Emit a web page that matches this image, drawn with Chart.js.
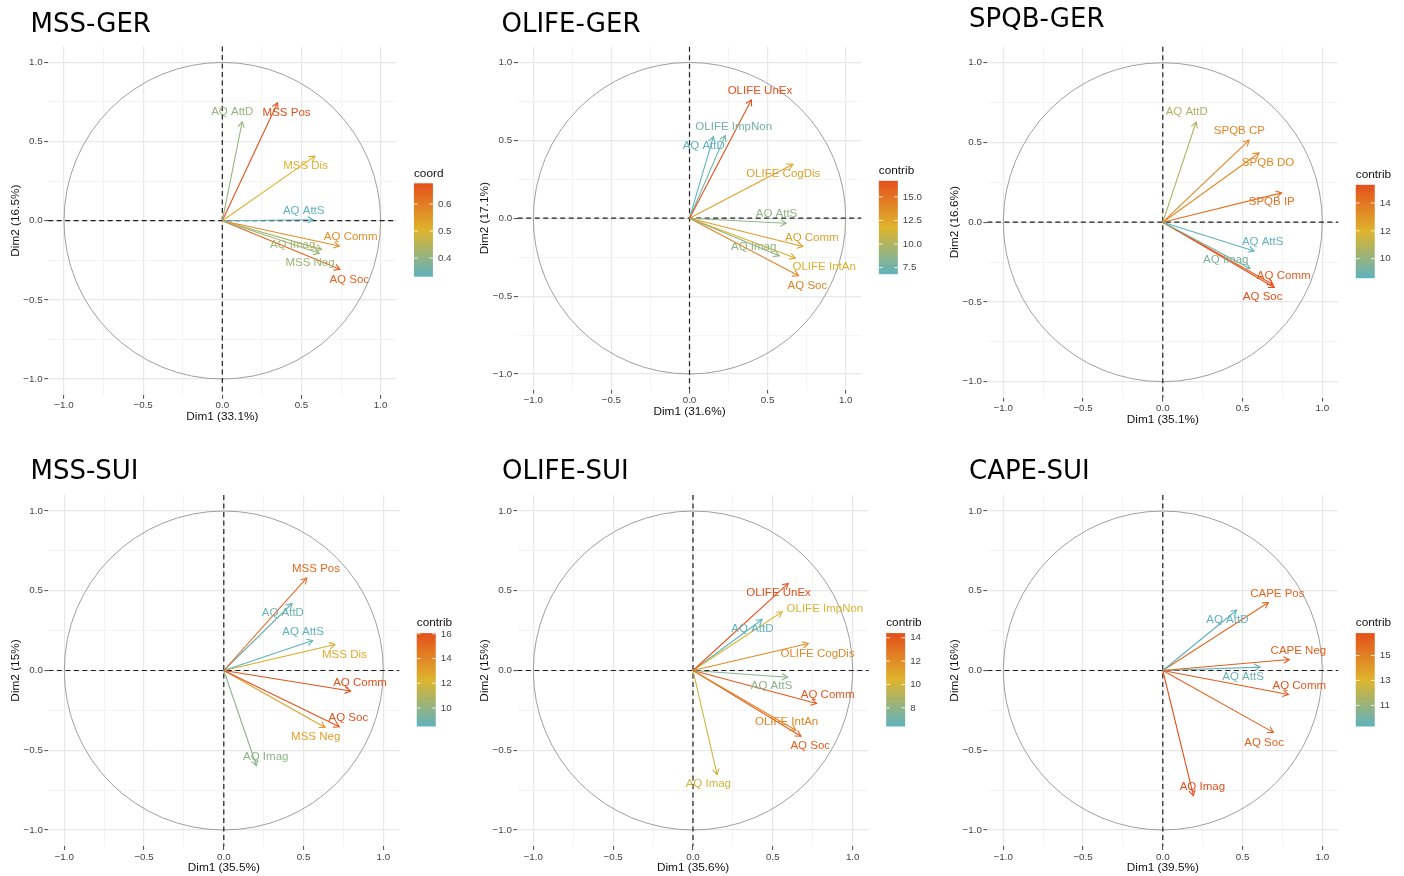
<!DOCTYPE html>
<html>
<head>
<meta charset="utf-8">
<script src="https://cdn.jsdelivr.net/npm/chart.js"></script>
<style>
  body { margin: 0; background: #fff; }
  #wrap { position: relative; width: 1404px; height: 876px; overflow: hidden; }
  #wrap canvas { position: absolute; }
</style>
</head>
<body>
<div id="wrap"></div>
<script>
// Axis breaks shared by every panel (labelled every 0.5, minor grid in between)
const axisBreaks = [-1, -0.75, -0.5, -0.25, 0, 0.25, 0.5, 0.75, 1];

// MSS-GER (coloured by coord)
const mssGerVars = ['AQ AttD', 'MSS Pos', 'MSS Dis', 'AQ AttS', 'AQ Comm', 'AQ Imag', 'MSS Neg', 'AQ Soc'];
const mssGerDim1 = [0.126, 0.349, 0.585, 0.575, 0.739, 0.627, 0.613, 0.743];
const mssGerDim2 = [0.625, 0.745, 0.408, 0.006, -0.160, -0.181, -0.206, -0.307];
const mssGerCoord = [0.407, 0.677, 0.509, 0.331, 0.572, 0.426, 0.418, 0.646];
const mssGerLabelX = [0.063, 0.406, 0.526, 0.514, 0.811, 0.444, 0.554, 0.802];
const mssGerLabelY = [0.688, 0.684, 0.347, 0.065, -0.103, -0.154, -0.269, -0.371];
const mssGerTicks = ['0.4', '0.5', '0.6'];

// OLIFE-GER
const olifeGerVars = ['OLIFE UnEx', 'OLIFE ImpNon', 'AQ AttD', 'OLIFE CogDis', 'AQ AttS', 'AQ Comm', 'AQ Imag', 'OLIFE IntAn', 'AQ Soc'];
const olifeGerDim1 = [0.396, 0.228, 0.153, 0.662, 0.619, 0.726, 0.574, 0.677, 0.698];
const olifeGerDim2 = [0.759, 0.530, 0.524, 0.346, -0.032, -0.182, -0.241, -0.256, -0.370];
const olifeGerContrib = [16.7, 7.6, 6.8, 12.7, 8.8, 12.8, 8.8, 12.0, 14.2];
const olifeGerLabelX = [0.451, 0.283, 0.091, 0.600, 0.557, 0.783, 0.411, 0.862, 0.755];
const olifeGerLabelY = [0.818, 0.585, 0.466, 0.284, 0.030, -0.124, -0.182, -0.310, -0.432];
const olifeGerTicks = ['7.5', '10.0', '12.5', '15.0'];

// SPQB-GER
const spqbGerVars = ['AQ AttD', 'SPQB CP', 'SPQB DO', 'SPQB IP', 'AQ AttS', 'AQ Imag', 'AQ Comm', 'AQ Soc'];
const spqbGerDim1 = [0.209, 0.541, 0.603, 0.745, 0.572, 0.547, 0.691, 0.699];
const spqbGerDim2 = [0.628, 0.514, 0.434, 0.184, -0.180, -0.290, -0.390, -0.409];
const spqbGerContrib = [10.7, 13.5, 13.4, 14.2, 8.6, 9.3, 15.0, 15.3];
const spqbGerLabelX = [0.150, 0.480, 0.660, 0.683, 0.626, 0.395, 0.758, 0.626];
const spqbGerLabelY = [0.689, 0.574, 0.374, 0.125, -0.125, -0.234, -0.336, -0.468];
const spqbGerTicks = ['10', '12', '14'];

// MSS-SUI
const mssSuiVars = ['MSS Pos', 'AQ AttD', 'AQ AttS', 'MSS Dis', 'AQ Comm', 'AQ Soc', 'MSS Neg', 'AQ Imag'];
const mssSuiDim1 = [0.520, 0.428, 0.557, 0.697, 0.795, 0.724, 0.635, 0.205];
const mssSuiDim2 = [0.580, 0.420, 0.188, 0.163, -0.129, -0.353, -0.357, -0.597];
const mssSuiContrib = [15.1, 8.9, 8.5, 12.7, 16.06, 16.0, 13.1, 9.9];
const mssSuiLabelX = [0.578, 0.370, 0.497, 0.756, 0.854, 0.781, 0.576, 0.263];
const mssSuiLabelY = [0.639, 0.359, 0.242, 0.100, -0.075, -0.296, -0.415, -0.541];
const mssSuiTicks = ['10', '12', '14', '16'];

// OLIFE-SUI
const olifeSuiVars = ['OLIFE UnEx', 'OLIFE ImpNon', 'AQ AttD', 'OLIFE CogDis', 'AQ AttS', 'AQ Comm', 'OLIFE IntAn', 'AQ Soc', 'AQ Imag'];
const olifeSuiDim1 = [0.596, 0.559, 0.433, 0.722, 0.592, 0.774, 0.644, 0.676, 0.151];
const olifeSuiDim2 = [0.546, 0.368, 0.320, 0.169, -0.042, -0.207, -0.374, -0.412, -0.653];
const olifeSuiContrib = [14.4, 10.2, 6.4, 12.1, 7.7, 14.1, 12.2, 13.8, 9.9];
const olifeSuiLabelX = [0.536, 0.826, 0.372, 0.780, 0.492, 0.843, 0.586, 0.734, 0.096];
const olifeSuiLabelY = [0.490, 0.385, 0.262, 0.107, -0.098, -0.151, -0.322, -0.473, -0.713];
const olifeSuiTicks = ['8', '10', '12', '14'];

// CAPE-SUI
const capeSuiVars = ['AQ AttD', 'CAPE Pos', 'CAPE Neg', 'AQ AttS', 'AQ Comm', 'AQ Soc', 'AQ Imag'];
const capeSuiDim1 = [0.463, 0.662, 0.793, 0.610, 0.787, 0.693, 0.192];
const capeSuiDim2 = [0.378, 0.426, 0.069, 0.021, -0.150, -0.388, -0.785];
const capeSuiContrib = [9.3, 15.9, 16.3, 9.6, 16.5, 16.2, 16.8];
const capeSuiLabelX = [0.405, 0.718, 0.850, 0.503, 0.856, 0.635, 0.248];
const capeSuiLabelY = [0.319, 0.482, 0.123, -0.038, -0.096, -0.451, -0.731];
const capeSuiTicks = ['11', '13', '15'];

const panels = [
    { title: 'MSS-GER', legend: 'coord', vars: mssGerVars, dim1: mssGerDim1, dim2: mssGerDim2, value: mssGerCoord,
      labX: mssGerLabelX, labY: mssGerLabelY, ticks: mssGerTicks, xTitle: 'Dim1 (33.1%)', yTitle: 'Dim2 (16.5%)' },
    { title: 'OLIFE-GER', legend: 'contrib', vars: olifeGerVars, dim1: olifeGerDim1, dim2: olifeGerDim2, value: olifeGerContrib,
      labX: olifeGerLabelX, labY: olifeGerLabelY, ticks: olifeGerTicks, xTitle: 'Dim1 (31.6%)', yTitle: 'Dim2 (17.1%)' },
    { title: 'SPQB-GER', legend: 'contrib', vars: spqbGerVars, dim1: spqbGerDim1, dim2: spqbGerDim2, value: spqbGerContrib,
      labX: spqbGerLabelX, labY: spqbGerLabelY, ticks: spqbGerTicks, xTitle: 'Dim1 (35.1%)', yTitle: 'Dim2 (16.6%)' },
    { title: 'MSS-SUI', legend: 'contrib', vars: mssSuiVars, dim1: mssSuiDim1, dim2: mssSuiDim2, value: mssSuiContrib,
      labX: mssSuiLabelX, labY: mssSuiLabelY, ticks: mssSuiTicks, xTitle: 'Dim1 (35.5%)', yTitle: 'Dim2 (15%)' },
    { title: 'OLIFE-SUI', legend: 'contrib', vars: olifeSuiVars, dim1: olifeSuiDim1, dim2: olifeSuiDim2, value: olifeSuiContrib,
      labX: olifeSuiLabelX, labY: olifeSuiLabelY, ticks: olifeSuiTicks, xTitle: 'Dim1 (35.6%)', yTitle: 'Dim2 (15%)' },
    { title: 'CAPE-SUI', legend: 'contrib', vars: capeSuiVars, dim1: capeSuiDim1, dim2: capeSuiDim2, value: capeSuiContrib,
      labX: capeSuiLabelX, labY: capeSuiLabelY, ticks: capeSuiTicks, xTitle: 'Dim1 (39.5%)', yTitle: 'Dim2 (16%)' }
];

// Page layout: canvas origin, circle centre / unit size in px, title baseline
const boxes = [
    { left: 0,   top: 0,   cx: 222.3,  cy: 220.7, sx: 158.3, sy: 158.3, tx: 30.5,  ty: 31.5 },
    { left: 468, top: 0,   cx: 689.5,  cy: 218.2, sx: 156.2, sy: 155.8, tx: 501.5, ty: 31.5 },
    { left: 936, top: 0,   cx: 1162.8, cy: 222.2, sx: 159.5, sy: 159.5, tx: 969,   ty: 27.3 },
    { left: 0,   top: 438, cx: 223.8,  cy: 670.5, sx: 159.5, sy: 159.5, tx: 30.5,  ty: 478.5 },
    { left: 468, top: 438, cx: 693.0,  cy: 670.5, sx: 159.7, sy: 159.5, tx: 502,   ty: 478.5 },
    { left: 936, top: 438, cx: 1162.8, cy: 670.5, sx: 159.5, sy: 159.5, tx: 969,   ty: 478.5 }
];
const CW = 468, CH = 438, YAXIS_W = 42, XAXIS_H = 30;

const SANS = '"Liberation Sans", Arial, Helvetica, sans-serif';
const rampLow = [95, 178, 190], rampMid = [222, 180, 44], rampHigh = [228, 80, 28];

function ramp(t) {
    t = Math.max(0, Math.min(1, t));
    const [a, b, u] = t < 0.5 ? [rampLow, rampMid, t * 2] : [rampMid, rampHigh, (t - 0.5) * 2];
    const c = a.map((v, i) => Math.round(v + (b[i] - v) * u));
    return `rgb(${c[0]},${c[1]},${c[2]})`;
}

const isMajor = v => Math.abs(v * 2 - Math.round(v * 2)) < 1e-9;
const fmt = v => (v < -1e-9 ? '\u2212' : '') + Math.abs(v).toFixed(1);

function axis(title, horizontal) {
    return {
        type: 'linear',
        min: -1.1,
        max: 1.1,
        afterBuildTicks: s => { s.ticks = axisBreaks.map(v => ({ value: v })); },
        afterFit: s => { if (horizontal) s.height = XAXIS_H; else s.width = YAXIS_W; },
        border: { display: false },
        grid: {
            color: c => (c.tick && !isMajor(c.tick.value)) ? '#f1f1f1' : '#e8e8e8',
            lineWidth: c => (c.tick && !isMajor(c.tick.value)) ? 0.8 : 1.2,
            tickColor: c => (c.tick && !isMajor(c.tick.value)) ? 'rgba(0,0,0,0)' : '#333333',
            tickLength: 4,
            tickWidth: 0.9
        },
        ticks: {
            autoSkip: false,
            maxRotation: 0,
            padding: horizontal ? 1 : 1.5,
            color: '#444444',
            font: { family: SANS, size: 9.8 },
            callback: v => isMajor(v) ? fmt(v) : ''
        },
        title: {
            display: true,
            text: title,
            color: '#111111',
            font: { family: SANS, size: 11.8, lineHeight: 1.2 },
            padding: horizontal ? { top: 0, bottom: 1 } : { top: 2.3, bottom: 0 }
        }
    };
}

function panelPlugin(p, box) {
    const lo = Math.min(...p.value), hi = Math.max(...p.value);
    const colorOf = v => ramp((v - lo) / (hi - lo));
    return {
        id: 'corCircle',
        beforeDatasetsDraw(chart) {
            const { ctx, chartArea: a, scales: { x, y } } = chart;
            const x0 = x.getPixelForValue(0), y0 = y.getPixelForValue(0);
            ctx.save();
            // unit circle
            ctx.beginPath();
            ctx.ellipse(x0, y0, x.getPixelForValue(1) - x0, y0 - y.getPixelForValue(1), 0, 0, Math.PI * 2);
            ctx.strokeStyle = '#9f9f9f';
            ctx.lineWidth = 1;
            ctx.stroke();
            // dashed zero lines
            ctx.setLineDash([5, 3.5]);
            ctx.strokeStyle = '#1e1e1e';
            ctx.lineWidth = 1.2;
            ctx.beginPath();
            ctx.moveTo(a.left, y0); ctx.lineTo(a.right, y0);
            ctx.moveTo(x0, a.top); ctx.lineTo(x0, a.bottom);
            ctx.stroke();
            ctx.restore();
        },
        afterDatasetsDraw(chart) {
            const { ctx, scales: { x, y } } = chart;
            ctx.save();
            p.vars.forEach((name, i) => {
                const pts = chart.getDatasetMeta(i).data;
                const o = pts[0], tip = pts[1];
                const ang = Math.atan2(tip.y - o.y, tip.x - o.x);
                // open arrow head
                ctx.strokeStyle = colorOf(p.value[i]);
                ctx.lineWidth = 1.1;
                ctx.beginPath();
                ctx.moveTo(tip.x - 6.5 * Math.cos(ang - Math.PI / 6), tip.y - 6.5 * Math.sin(ang - Math.PI / 6));
                ctx.lineTo(tip.x, tip.y);
                ctx.lineTo(tip.x - 6.5 * Math.cos(ang + Math.PI / 6), tip.y - 6.5 * Math.sin(ang + Math.PI / 6));
                ctx.stroke();
            });
            // variable labels
            ctx.font = `11.5px ${SANS}`;
            ctx.textAlign = 'center';
            ctx.textBaseline = 'middle';
            p.vars.forEach((name, i) => {
                ctx.fillStyle = colorOf(p.value[i]);
                ctx.fillText(name, x.getPixelForValue(p.labX[i]), y.getPixelForValue(p.labY[i]));
            });
            ctx.restore();
        },
        afterDraw(chart) {
            const { ctx, chartArea: a, scales: { y } } = chart;
            ctx.save();
            // panel title
            ctx.font = '26px "DejaVu Sans", Verdana, sans-serif';
            ctx.fillStyle = '#000';
            ctx.textAlign = 'left';
            ctx.textBaseline = 'alphabetic';
            ctx.fillText(p.title, box.tx - box.left, box.ty - box.top);

            // colour bar legend
            const barL = a.right + 17.5, barW = 19, barH = 93.4;
            const barT = y.getPixelForValue(0) - 37.4, barB = barT + barH;
            ctx.font = `11.8px ${SANS}`;
            ctx.fillStyle = '#111';
            ctx.fillText(p.legend, barL, barT - 6.7);
            const g = ctx.createLinearGradient(0, barB, 0, barT);
            for (let k = 0; k <= 10; k++) g.addColorStop(k / 10, ramp(k / 10));
            ctx.fillStyle = g;
            ctx.fillRect(barL, barT, barW, barH);
            ctx.font = `9.8px ${SANS}`;
            ctx.textBaseline = 'middle';
            p.ticks.forEach(lbl => {
                const ty = barB - (parseFloat(lbl) - lo) / (hi - lo) * barH;
                ctx.strokeStyle = '#fff';
                ctx.lineWidth = 0.8;
                ctx.beginPath();
                ctx.moveTo(barL, ty); ctx.lineTo(barL + 3.8, ty);
                ctx.moveTo(barL + barW - 3.8, ty); ctx.lineTo(barL + barW, ty);
                ctx.stroke();
                ctx.fillStyle = '#444';
                ctx.fillText(lbl, barL + barW + 5, ty);
            });
            ctx.restore();
        }
    };
}

function createPanel(p, box) {
    const canvas = document.createElement('canvas');
    canvas.width = CW;
    canvas.height = CH;
    canvas.style.left = box.left + 'px';
    canvas.style.top = box.top + 'px';
    document.getElementById('wrap').appendChild(canvas);

    const plotL = box.cx - 1.1 * box.sx, plotR = box.cx + 1.1 * box.sx;
    const plotT = box.cy - 1.1 * box.sy, plotB = box.cy + 1.1 * box.sy;
    const lo = Math.min(...p.value), hi = Math.max(...p.value);

    new Chart(canvas.getContext('2d'), {
        type: 'scatter',
        data: {
            datasets: p.vars.map((name, i) => ({
                label: name,
                data: [{ x: 0, y: 0 }, { x: p.dim1[i], y: p.dim2[i] }],
                showLine: true,
                borderColor: ramp((p.value[i] - lo) / (hi - lo)),
                borderWidth: 1.1,
                pointRadius: 0,
                pointHoverRadius: 0
            }))
        },
        options: {
            responsive: false,
            animation: false,
            events: [],
            layout: {
                padding: {
                    left: plotL - box.left - YAXIS_W,
                    top: plotT - box.top,
                    right: box.left + CW - plotR,
                    bottom: box.top + CH - plotB - XAXIS_H
                }
            },
            scales: {
                x: axis(p.xTitle, true),
                y: axis(p.yTitle, false)
            },
            plugins: { legend: { display: false }, tooltip: { enabled: false } }
        },
        plugins: [panelPlugin(p, box)]
    });
}

panels.forEach((p, i) => createPanel(p, boxes[i]));
</script>
</body>
</html>
